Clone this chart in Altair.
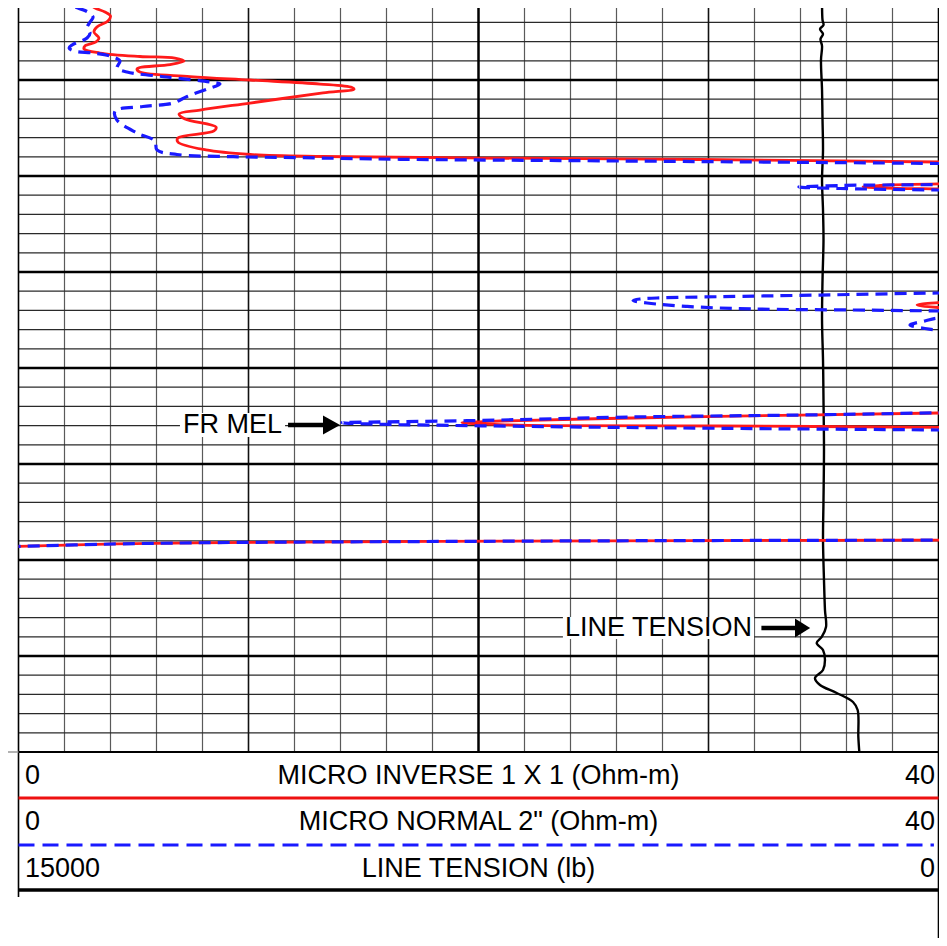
import altair as alt
import pandas as pd

# ---------------- data (depth in ft, resistivity in Ohm-m, tension in lb) ----------------
red_depth = [1921.67, 1922.08, 1922.5, 1922.92, 1923.33, 1923.85, 1924.48, 1925.0, 1925.63, 1926.04,
             1926.46, 1926.77, 1927.19, 1927.55, 1927.71, 1928.02, 1928.39, 1928.70, 1928.85, 1929.17,
             1929.64, 1930.0, 1930.42, 1930.78, 1930.94, 1931.35, 1932.40, 1933.13, 1933.54, 1934.06,
             1934.90, 1935.31, 1936.04, 1936.46, 1937.29, 1937.76, 1937.97, 1938.13, 1938.28, 1938.54,
             1938.65, 1940.8, 1940.83, 1940.99, 1941.11, 1941.23, 1941.35, 1941.5,
             1952.3, 1953.18, 1953.44, 1953.70, 1953.9,
             1964.5, 1964.69, 1964.90, 1965.21, 1965.52, 1965.70, 1965.89, 1966.01, 1966.04, 1966.18, 1966.3,
             1977.76, 1977.92, 1977.95, 1978.0, 1978.07, 1978.13, 1978.21, 1978.33, 1978.59]
red_value = [3.11, 3.09, 3.33, 3.76, 4.0, 3.89, 3.41, 3.28, 3.5, 3.37,
             2.89, 2.85, 3.54, 5.28, 6.8, 7.2, 6.59, 5.28, 5.15, 5.28,
             7.46, 10.07, 13.11, 14.5, 14.59, 13.24, 10.07, 7.89, 6.98, 7.24,
             8.59, 8.5, 6.93, 6.93, 8.15, 10.07, 13.24, 20.07, 29.63, 40.02,
             45, 45, 40.0, 37.46, 36.72, 37.46, 40.0, 45,
             45, 40.0, 39.07, 40.0, 45,
             45, 40.0, 33.98, 26.72, 20.93, 19.28, 20.93, 23.11, 30.37, 40.0, 45,
             45, 40.0, 34.63, 25.67, 18.24, 12.15, 7.67, 4.24, 0.0]

blue_depth = [1921.67, 1921.875, 1922.40, 1922.92, 1923.44, 1923.96, 1924.58, 1925.10, 1925.63, 1926.35,
              1926.67, 1926.98, 1927.19, 1927.5, 1928.02, 1928.44, 1928.75, 1929.17, 1929.69, 1930.21,
              1930.42, 1930.94, 1931.72, 1932.40, 1932.76, 1933.23, 1934.17, 1935.52, 1936.35, 1937.29,
              1937.76, 1937.99, 1938.09, 1938.26, 1938.42, 1938.70, 1938.85,
              1940.7, 1940.89, 1940.99, 1941.15, 1941.30, 1941.46, 1941.6,
              1952.1, 1952.19, 1952.40, 1952.57, 1952.69, 1952.81, 1952.97, 1953.23, 1953.59, 1953.85,
              1953.96, 1954.06, 1954.25,
              1954.6, 1954.79, 1955.10, 1955.52, 1955.89, 1956.04, 1956.2,
              1964.4, 1964.66, 1964.90, 1965.10, 1965.49, 1965.63, 1965.70, 1965.83, 1966.11, 1966.28,
              1966.46, 1966.6,
              1977.76, 1977.92, 1977.95, 1978.0, 1978.07, 1978.13, 1978.21, 1978.33, 1978.59]
blue_value = [1.72, 1.89, 2.46, 3.02, 3.24, 3.11, 2.98, 3.11, 2.98, 2.33,
              2.2, 2.41, 3.24, 3.98, 4.41, 4.33, 4.28, 4.72, 6.46, 8.33,
              8.76, 8.2, 7.33, 6.72, 5.41, 4.2, 4.28, 5.15, 5.93, 6.02,
              6.89, 9.33, 12.24, 16.59, 25.28, 40.02, 45,
              45, 40.0, 35.72, 33.93, 35.72, 40.0, 45,
              45, 40.0, 34.85, 30.5, 28.02, 27.02, 26.72, 27.33, 29.07, 31.93,
              36.28, 40.0, 45,
              45, 40.0, 39.41, 38.76, 39.41, 40.0, 45,
              45, 40.0, 33.98, 26.72, 19.5, 15.28, 14.07, 15.28, 23.11, 30.37,
              40.0, 45,
              45, 40.0, 34.63, 25.67, 18.24, 12.15, 7.67, 4.24, 0.0]

tension_depth = [1921.67, 1923.75, 1924.27, 1924.69, 1925.21, 1925.73, 1926.46, 1927.92, 1931.04, 1934.17,
                 1937.29, 1940.42, 1943.54, 1946.67, 1950.83, 1955.0, 1959.17, 1963.33, 1968.54, 1973.75,
                 1977.92, 1982.08, 1985.21, 1986.98, 1988.02, 1988.65, 1989.38, 1990.42, 1991.46, 1992.29,
                 1993.02, 1993.85, 1994.79, 1995.63, 1998.44, 2000.0]
tension_value = [1899, 1891, 1875, 1932, 1883, 1924, 1899, 1916, 1899, 1891,
                 1883, 1899, 1883, 1875, 1891, 1899, 1883, 1875, 1867, 1875,
                 1883, 1867, 1851, 1834, 1904, 1986, 1883, 1851, 1883, 2014,
                 1932, 1660, 1394, 1318, 1307, 1291]

legend_titles = ["MICRO INVERSE 1 X 1 (Ohm-m)", "MICRO NORMAL 2\" (Ohm-m)", "LINE TENSION (lb)"]
legend_left = ["0", "0", "15000"]
legend_right = ["40", "40", "0"]
legend_text_depth = [2002.5, 2007.29, 2012.19]

annot_text = ["FR MEL", "LINE TENSION"]
annot_v = [9.30, 27.83]
annot_d = [1965.94, 1987.08]

# ---------------- scales ----------------
W, H = 931, 930
XDOM = [-0.4565, 40.0217]
TDOM = [15171.2, -8.15]
YDOM = [1922.5, 2019.375]
FONT = "Liberation Sans"


def X(field, dom=XDOM):
    return alt.X(field, type="quantitative", scale=alt.Scale(domain=dom, nice=False, zero=False), axis=None)


def Y(field):
    return alt.Y(field, type="quantitative",
                 scale=alt.Scale(domain=YDOM, reverse=True, nice=False, zero=False), axis=None)


layers = []

# ---------------- grid ----------------
vminor = pd.DataFrame({"v": [v for v in range(2, 40, 2) if v % 10 != 0]})
vminor["d1"], vminor["d2"] = YDOM[0], 2000
layers.append(alt.Chart(vminor).mark_rule(color="#5a5a5a", strokeWidth=1.2).encode(
    x=X("v"), y=Y("d1"), y2="d2"))

hminor = pd.DataFrame({"d": [d for d in range(1924, 2000, 2) if d % 10 != 0]})
hminor["v1"], hminor["v2"] = 0, 40
layers.append(alt.Chart(hminor).mark_rule(color="#2a2a2a", strokeWidth=1.2).encode(
    y=Y("d"), x=X("v1"), x2="v2"))

vmed = pd.DataFrame({"v": [10, 30], "d1": YDOM[0], "d2": 2000})
layers.append(alt.Chart(vmed).mark_rule(color="#111", strokeWidth=1.6).encode(
    x=X("v"), y=Y("d1"), y2="d2"))
vmaj = pd.DataFrame({"v": [20], "d1": YDOM[0], "d2": 2000})
layers.append(alt.Chart(vmaj).mark_rule(color="#000", strokeWidth=2.5).encode(
    x=X("v"), y=Y("d1"), y2="d2"))

hmaj = pd.DataFrame({"d": list(range(1930, 2000, 10)), "v1": 0, "v2": 40})
layers.append(alt.Chart(hmaj).mark_rule(color="#000", strokeWidth=2.5).encode(
    y=Y("d"), x=X("v1"), x2="v2"))

borders_v = pd.DataFrame({"v": [0, 40], "d1": [YDOM[0], YDOM[0]], "d2": [2015.1, YDOM[1]]})
layers.append(alt.Chart(borders_v).mark_rule(color="#000", strokeWidth=1.6).encode(
    x=X("v"), y=Y("d1"), y2="d2"))

bottom = pd.DataFrame({"d": [2000], "v1": [0], "v2": [40]})
layers.append(alt.Chart(bottom).mark_rule(color="#000", strokeWidth=2.2).encode(
    y=Y("d"), x=X("v1"), x2="v2"))
bottom_left = pd.DataFrame({"d": [2000], "v1": [XDOM[0]], "v2": [0]})
layers.append(alt.Chart(bottom_left).mark_rule(color="#999", strokeWidth=1.5).encode(
    y=Y("d"), x=X("v1"), x2="v2"))

# ---------------- annotation boxes, text, arrows ----------------
boxes = pd.DataFrame({"v1": [7.02, 23.67], "v2": [11.59, 31.98], "d1": [1964.69, 1985.94], "d2": [1967.19, 1988.23]})
layers.append(alt.Chart(boxes).mark_rect(color="white").encode(
    x=X("v1"), x2="v2", y=Y("d1"), y2="d2"))

annot = pd.DataFrame({"v": annot_v, "d": annot_d, "t": annot_text})
layers.append(alt.Chart(annot).mark_text(font=FONT, fontSize=27, color="#000", align="center",
                                         baseline="middle").encode(x=X("v"), y=Y("d"), text="t"))

shafts = pd.DataFrame({"v1": [11.72, 32.3], "v2": [13.5, 33.9], "d": [1965.94, 1987.08]})
layers.append(alt.Chart(shafts).mark_rule(color="#000", strokeWidth=4.5).encode(
    x=X("v1"), x2="v2", y=Y("d")))
heads1 = pd.DataFrame({"v": [13.61], "d": [1965.94]})
layers.append(alt.Chart(heads1).mark_point(shape="M-0.9,-1L0.9,0L-0.9,1Z", filled=True, size=361,
                                           color="#000", opacity=1).encode(x=X("v"), y=Y("d")))
heads2 = pd.DataFrame({"v": [34.09], "d": [1987.08]})
layers.append(alt.Chart(heads2).mark_point(shape="M-0.8,-1L0.8,0L-0.8,1Z", filled=True, size=361,
                                           color="#000", opacity=1).encode(x=X("v"), y=Y("d")))

# ---------------- curves ----------------
ten = pd.DataFrame({"depth": tension_depth, "tension": tension_value})
layers.append(alt.Chart(ten).mark_line(color="#000", strokeWidth=2.4, clip=True,
                                       interpolate="catmull-rom").encode(
    x=X("tension", TDOM), y=Y("depth"), order="depth:Q"))

red = pd.DataFrame({"depth": red_depth, "value": red_value})
layers.append(alt.Chart(red).mark_line(color="#ff1a1a", strokeWidth=2.8, clip=True,
                                       interpolate="catmull-rom").encode(
    x=X("value"), y=Y("depth"), order="depth:Q"))

blue = pd.DataFrame({"depth": blue_depth, "value": blue_value})
layers.append(alt.Chart(blue).mark_line(color="#1a1aff", strokeWidth=3.2, strokeDash=[12, 7], clip=True,
                                        interpolate="catmull-rom").encode(
    x=X("value"), y=Y("depth"), order="depth:Q"))

# ---------------- header / legend block ----------------
leg_lines = [
    (pd.DataFrame({"d": [2004.79], "v1": [0], "v2": [40]}), dict(color="#ee1111", strokeWidth=3)),
    (pd.DataFrame({"d": [2009.69], "v1": [0], "v2": [39.8]}), dict(color="#1a1aff", strokeWidth=3, strokeDash=[16, 8])),
    (pd.DataFrame({"d": [2014.375], "v1": [0], "v2": [40]}), dict(color="#000", strokeWidth=3.5)),
]
for df, kw in leg_lines:
    layers.append(alt.Chart(df).mark_rule(**kw).encode(y=Y("d"), x=X("v1"), x2="v2"))

leg_c = pd.DataFrame({"v": 20.0, "d": legend_text_depth, "t": legend_titles})
leg_l = pd.DataFrame({"v": 0.28, "d": legend_text_depth, "t": legend_left})
leg_r = pd.DataFrame({"v": 39.85, "d": legend_text_depth, "t": legend_right})
for df, al in [(leg_c, "center"), (leg_l, "left"), (leg_r, "right")]:
    layers.append(alt.Chart(df).mark_text(font=FONT, fontSize=27, color="#000", align=al,
                                          baseline="middle").encode(x=X("v"), y=Y("d"), text="t"))

chart = alt.layer(*layers).resolve_scale(x="independent").properties(
    width=W, height=H, padding=0, autosize=alt.AutoSizeParams(type="none"), background="white"
).configure_view(stroke=None)

chart.save("out.html", embed_options={"renderer": "svg", "actions": False})
